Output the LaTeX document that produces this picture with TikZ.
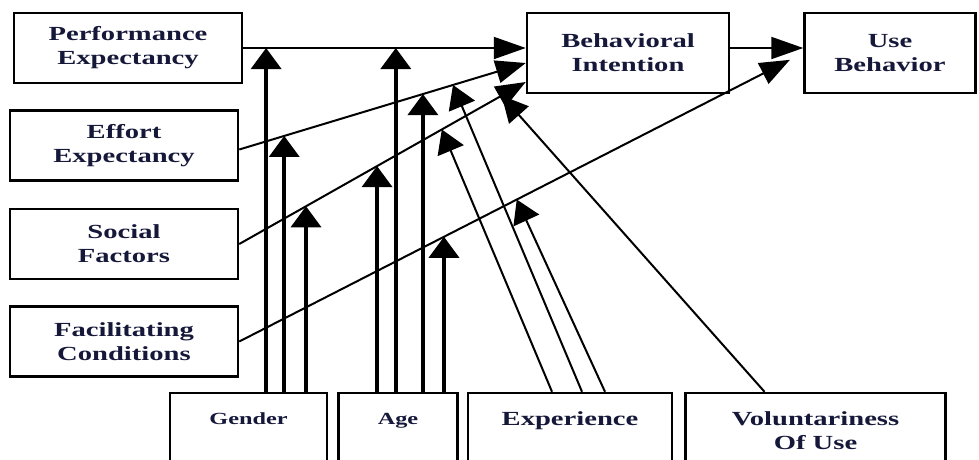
\documentclass[tikz,border=0pt]{standalone}
\usepackage{fontspec}
\setmainfont{Liberation Serif}[FakeStretch=1.43]
\usetikzlibrary{positioning,arrows.meta,calc}
\definecolor{InkNavy}{RGB}{22,24,58}
\tikzset{
  box/.style={draw,line width=2.5pt,minimum width=228pt,minimum height=70pt,
    inner sep=0pt,align=center,text=InkNavy,font=\fontsize{20}{24}\selectfont\bfseries},
  modbox/.style={box,minimum height=76pt},
  smallbox/.style={modbox,font=\fontsize{17}{24}\selectfont\bfseries},
  flow/.style={-{Triangle[length=32pt,width=22pt]},line width=2pt},
  slantflow/.style={-{Triangle[length=30pt,width=23pt]},line width=2pt},
  upflow/.style={-{Triangle[length=21pt,width=30pt]},line width=3.5pt},
  expflow/.style={-{Triangle[length=23pt,width=28pt]},line width=2pt},
  volflow/.style={-{Triangle[length=26pt,width=26pt]},line width=2pt}
}
\begin{document}
\begin{tikzpicture}[x=1pt,y=-1pt]
  \useasboundingbox (0,0) rectangle (979,459);
  \clip (0,0) rectangle (979,459);
  % determinants
  \node[box] (pe) at (128,48) {Performance\\Expectancy};
  \node[box,below=25pt of pe,xshift=-4pt] (ee) {Effort\\Expectancy};
  \node[box,below=26pt of ee] (sf) {Social\\Factors};
  \node[box,below=25pt of sf] (fc) {Facilitating\\Conditions};
  \node[box,minimum width=202pt,minimum height=80pt] (bi) at (628,53) {Behavioral\\Intention};
  \node[box,right=73pt of bi,minimum width=171pt,minimum height=80pt] (ub) {Use\\Behavior};
  % moderators
  \node[smallbox,minimum width=157pt] (gender) at (248.5,431) {Gender\\\mbox{}};
  \node[smallbox,right=9pt of gender,minimum width=119pt] (age) {Age\\\mbox{}};
  \node[modbox,right=8pt of age,minimum width=204pt] (exp) {Experience\\\mbox{}};
  \node[modbox,right=11pt of exp,minimum width=260pt] (vol) {Voluntariness\\Of Use};
  % main paths
  \coordinate (bi-pe) at (pe.east -| bi.west);
  \coordinate (ee-out) at ($(ee.east)+(0,4)$);
  \coordinate (bi-ee) at ($(bi.west)+(0,10)$);
  \coordinate (bi-sf) at ($(bi.west)+(0,29)$);
  \draw[flow] (pe.east) -- (bi-pe);
  \draw[flow] (bi.east |- pe.east) -- (ub.west |- pe.east);
  \draw[slantflow] (ee-out) -- (bi-ee);
  \draw[slantflow] (sf.east) -- (bi-sf);
  \draw[slantflow,shorten >=15pt] (fc.east) -- (ub.west);
  % points where the moderators meet the paths
  \coordinate (g1) at ($(pe.east)!0.081!(bi-pe)$);
  \coordinate (g2) at ($(ee-out)!0.157!(bi-ee)$);
  \coordinate (g3) at ($(sf.east)!0.233!(bi-sf)$);
  \coordinate (a1) at ($(sf.east)!0.481!(bi-sf)$);
  \coordinate (a2) at ($(pe.east)!0.540!(bi-pe)$);
  \coordinate (a3) at ($(ee-out)!0.641!(bi-ee)$);
  \coordinate (a4) at ($(fc.east)!0.363!(ub.west)$);
  \coordinate (e1) at ($(sf.east)!0.707!(bi-sf)$);
  \coordinate (e2) at ($(ee-out)!0.746!(bi-ee)$);
  \coordinate (e3) at ($(fc.east)!0.492!(ub.west)$);
  \coordinate (v1) at ($(sf.east)!0.916!(bi-sf)$);
  \draw[upflow] (g1 |- gender.north) -- (g1);
  \draw[upflow] (g2 |- gender.north) -- (g2);
  \draw[upflow] (g3 |- gender.north) -- (g3);
  \draw[upflow] (a1 |- age.north) -- (a1);
  \draw[upflow] (a2 |- age.north) -- (a2);
  \draw[upflow] (a3 |- age.north) -- (a3);
  \draw[upflow] (a4 |- age.north) -- (a4);
  \draw[expflow] ([xshift=-18pt]exp.north) -- (e1);
  \draw[expflow] ([xshift=12pt]exp.north) -- (e2);
  \draw[expflow] ([xshift=35pt]exp.north) -- (e3);
  \draw[volflow] ([xshift=-51pt]vol.north) -- (v1);
\end{tikzpicture}
\end{document}
